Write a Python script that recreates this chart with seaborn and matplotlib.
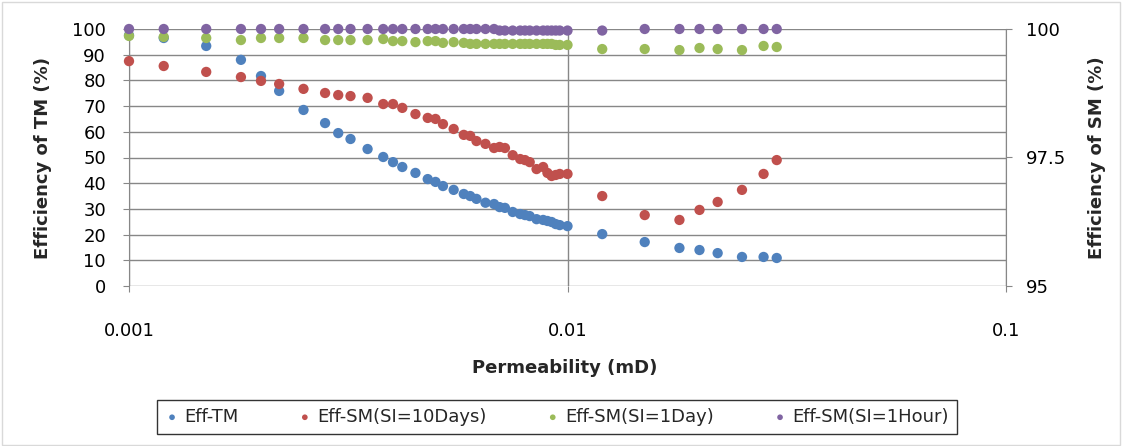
import matplotlib
matplotlib.use("Agg")
import matplotlib.pyplot as plt
import seaborn as sns
import pandas as pd
from matplotlib.patches import Rectangle
from matplotlib.ticker import FixedLocator, FixedFormatter, NullLocator

# permeability values (mD)
perm = [0.001, 0.0012, 0.0015, 0.0018, 0.002, 0.0022, 0.0025, 0.0028, 0.003, 0.0032,
        0.0035, 0.0038, 0.004, 0.0042, 0.0045, 0.0048, 0.005, 0.0052, 0.0055, 0.0058,
        0.006, 0.0062, 0.0065, 0.0068, 0.007, 0.0072, 0.0075, 0.0078, 0.008, 0.0082,
        0.0085, 0.0088, 0.009, 0.0092, 0.0094, 0.0096, 0.01, 0.012, 0.015, 0.018,
        0.02, 0.022, 0.025, 0.028, 0.03]

# efficiency of TM (%) - left axis
eff_tm = [97.5, 96.5, 93.4, 88.0, 81.7, 75.9, 68.5, 63.4, 59.5, 57.2,
          53.3, 50.2, 48.2, 46.3, 44.0, 41.6, 40.5, 38.9, 37.4, 35.8,
          35.0, 33.9, 32.4, 31.9, 30.7, 30.4, 28.8, 28.0, 27.6, 27.2,
          26.0, 25.7, 25.3, 24.9, 24.1, 23.7, 23.3, 20.2, 17.1, 14.8,
          14.0, 12.8, 11.3, 11.3, 10.9]

# efficiency of SM (%) - right axis
eff_sm_10days = [99.375, 99.28, 99.165, 99.065, 98.99, 98.93, 98.835, 98.755, 98.715, 98.695,
                 98.66, 98.54, 98.54, 98.465, 98.345, 98.27, 98.25, 98.15, 98.055, 97.94,
                 97.92, 97.82, 97.765, 97.685, 97.705, 97.685, 97.545, 97.47, 97.45, 97.41,
                 97.275, 97.315, 97.2, 97.14, 97.16, 97.18, 97.18, 96.75, 96.38, 96.285,
                 96.48, 96.635, 96.87, 97.18, 97.45]

eff_sm_1day = [99.865, 99.845, 99.825, 99.785, 99.825, 99.825, 99.825, 99.785, 99.785, 99.785,
               99.785, 99.805, 99.765, 99.765, 99.745, 99.765, 99.765, 99.73, 99.745, 99.73,
               99.71, 99.71, 99.71, 99.71, 99.71, 99.71, 99.71, 99.71, 99.71, 99.71,
               99.71, 99.71, 99.71, 99.71, 99.69, 99.69, 99.69, 99.61, 99.61, 99.59,
               99.63, 99.61, 99.59, 99.67, 99.65]

eff_sm_1hour = [100, 100, 100, 100, 100, 100, 100, 100, 100, 100,
                100, 100, 100, 100, 100, 100, 100, 100, 100, 100,
                100, 100, 100, 100, 99.97, 99.97, 99.97, 99.97, 99.97, 99.97,
                99.97, 99.97, 99.97, 99.97, 99.97, 99.97, 99.97, 99.97, 100, 100,
                100, 100, 100, 100, 100]

left_ticks = [0, 10, 20, 30, 40, 50, 60, 70, 80, 90, 100]
right_ticks = [95, 97.5, 100]
right_labels = ["95", "97.5", "100"]
x_ticks = [0.001, 0.01, 0.1]
x_labels = ["0.001", "0.01", "0.1"]

df = pd.DataFrame({"perm": perm, "tm": eff_tm, "sm10": eff_sm_10days,
                   "sm1d": eff_sm_1day, "sm1h": eff_sm_1hour})

sns.set_style("white")
plt.rcParams["font.family"] = ["DejaVu Sans"]

grid_col = "#878787"
fig = plt.figure(figsize=(11.23, 4.46), dpi=100)
ax = fig.add_axes([129 / 1123, 1 - 286 / 446, (1006 - 129) / 1123, (286 - 29) / 446])
ax2 = ax.twinx()

ms = 55
sns.scatterplot(data=df, x="perm", y="tm", ax=ax, color="#4F81BD", s=ms,
                edgecolor="none", label="Eff-TM", legend=False, clip_on=False)
sns.scatterplot(data=df, x="perm", y="sm10", ax=ax2, color="#C0504D", s=ms,
                edgecolor="none", label="Eff-SM(SI=10Days)", legend=False, clip_on=False)
sns.scatterplot(data=df, x="perm", y="sm1d", ax=ax2, color="#9BBB59", s=ms,
                edgecolor="none", label="Eff-SM(SI=1Day)", legend=False, clip_on=False)
sns.scatterplot(data=df, x="perm", y="sm1h", ax=ax2, color="#8064A2", s=ms,
                edgecolor="none", label="Eff-SM(SI=1Hour)", legend=False, clip_on=False)

ax.set_xscale("log")
ax.set_xlim(0.001, 0.1)
ax.set_ylim(0, 100)
ax2.set_ylim(95, 100)

ax.xaxis.set_major_locator(FixedLocator(x_ticks))
ax.xaxis.set_major_formatter(FixedFormatter(x_labels))
ax.xaxis.set_minor_locator(NullLocator())
ax.yaxis.set_major_locator(FixedLocator(left_ticks))
ax2.yaxis.set_major_locator(FixedLocator(right_ticks))
ax2.yaxis.set_major_formatter(FixedFormatter(right_labels))

ax.grid(True, which="major", color=grid_col, linewidth=1.0)
ax.set_axisbelow(True)
for a in (ax, ax2):
    for side in ("top", "bottom"):
        a.spines[side].set_visible(False)
    a.spines["left"].set_color(grid_col)
    a.spines["right"].set_color(grid_col)
ax.spines["right"].set_visible(False)
ax2.spines["left"].set_visible(False)

ax.tick_params(axis="both", direction="out", length=4.5, color=grid_col,
               labelsize=13, labelcolor="black", bottom=True, left=True, pad=12)
ax.tick_params(axis="x", pad=21.5)
ax2.tick_params(axis="y", direction="out", length=4.5, color=grid_col,
                labelsize=13, labelcolor="black", right=True, pad=10)
ax.set_xlabel("")
ax.set_ylabel("")
ax2.set_ylabel("")

fig.text(565 / 1123, 1 - 368 / 446, "Permeability (mD)", fontsize=13,
         fontweight="bold", ha="center", va="center")
fig.text(43 / 1123, 1 - 158 / 446, "Efficiency of TM (%)", fontsize=13,
         fontweight="bold", ha="center", va="center", rotation=90)
fig.text(1097 / 1123, 1 - 158 / 446, "Efficiency of SM (%)", fontsize=13,
         fontweight="bold", ha="center", va="center", rotation=90)

h1, l1 = ax.get_legend_handles_labels()
h2, l2 = ax2.get_legend_handles_labels()
leg = fig.legend(h1 + h2, l1 + l2, loc="center", ncol=4,
                 bbox_to_anchor=(557 / 1123, 1 - 417 / 446),
                 frameon=True, fancybox=False, fontsize=13, markerscale=0.55,
                 handletextpad=0.3, columnspacing=3.25, borderpad=0.45,
                 handlelength=0.8)
leg.get_frame().set_edgecolor("black")
leg.get_frame().set_linewidth(1.0)

fig.patches.append(Rectangle((0.002, 0.003), 0.995, 0.993, transform=fig.transFigure,
                             fill=False, edgecolor="#D9D9D9", linewidth=1.0))

fig.savefig("out.png", dpi=100)
